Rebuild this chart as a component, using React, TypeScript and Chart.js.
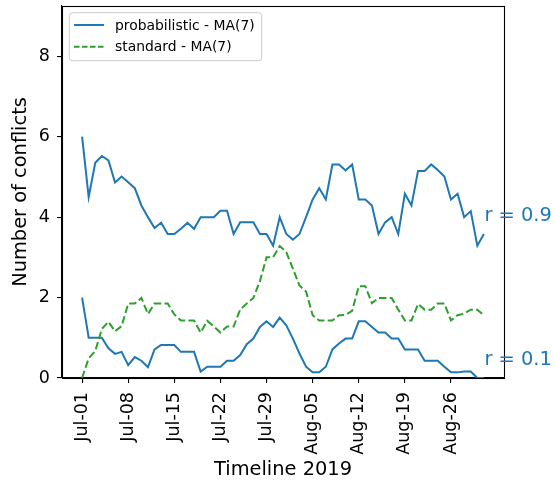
import React, { useEffect, useRef } from "react";
import { Chart, registerables } from "chart.js";

Chart.register(...registerables);

// Daily values from Jul-01 to Aug-31 2019 (7-day moving averages)
const PROB_HIGH: number[] = [
  6.0, 4.5, 5.35, 5.52, 5.41, 4.86, 5.01, 4.87, 4.72, 4.29,
  4.0, 3.73, 3.86, 3.58, 3.58, 3.71, 3.86, 3.71, 4.0, 4.0,
  4.0, 4.16, 4.16, 3.58, 3.87, 3.87, 3.87, 3.58, 3.58, 3.29,
  4.0, 3.58, 3.44, 3.58, 4.0, 4.44, 4.72, 4.44, 5.31, 5.31,
  5.16, 5.31, 4.44, 4.44, 4.29, 3.58, 3.87, 4.0, 3.58, 4.58,
  4.29, 5.15, 5.15, 5.31, 5.17, 5.01, 4.44, 4.58, 4.0, 4.15,
  3.29, 3.58,
];

const PROB_LOW: number[] = [
  2.0, 1.0, 1.0, 1.0, 0.74, 0.6, 0.65, 0.32, 0.52, 0.43,
  0.27, 0.71, 0.82, 0.82, 0.82, 0.65, 0.65, 0.65, 0.16, 0.28,
  0.28, 0.28, 0.43, 0.43, 0.57, 0.84, 0.98, 1.27, 1.41, 1.27,
  1.5, 1.31, 0.98, 0.61, 0.28, 0.14, 0.14, 0.28, 0.71, 0.86,
  0.98, 0.98, 1.41, 1.41, 1.27, 1.13, 1.13, 0.98, 0.98, 0.71,
  0.71, 0.71, 0.43, 0.43, 0.43, 0.28, 0.14, 0.14, 0.16, 0.16,
  0.0, 0.0,
];

const STANDARD: number[] = [
  0.0, 0.49, 0.67, 1.22, 1.4, 1.16, 1.29, 1.85, 1.85, 1.99,
  1.59, 1.85, 1.85, 1.85, 1.58, 1.43, 1.43, 1.43, 1.13, 1.42,
  1.28, 1.13, 1.28, 1.28, 1.7, 1.85, 1.99, 2.41, 3.0, 3.0,
  3.28, 3.13, 2.72, 2.3, 2.15, 1.56, 1.43, 1.43, 1.43, 1.56,
  1.57, 1.67, 2.28, 2.28, 1.86, 1.99, 1.99, 1.99, 1.7, 1.43,
  1.43, 1.84, 1.7, 1.7, 1.85, 1.85, 1.43, 1.56, 1.6, 1.7,
  1.7, 1.56,
];

const TICK_DAYS: number[] = [0, 7, 14, 21, 28, 35, 42, 49, 56];
const TICK_LABELS: string[] = [
  "Jul-01", "Jul-08", "Jul-15", "Jul-22", "Jul-29",
  "Aug-05", "Aug-12", "Aug-19", "Aug-26",
];
const Y_TICKS: number[] = [0, 2, 4, 6, 8];

const LEGEND_LABELS: string[] = ["probabilistic - MA(7)", "standard - MA(7)"];
const ANNOTATIONS: { text: string; y: number }[] = [
  { text: "r = 0.9", y: 4.02 },
  { text: "r = 0.1", y: 0.45 },
];

const BLUE = "#1f77b4";
const GREEN = "#2ca02c";
const FONT = "'DejaVu Sans', sans-serif";

const toPoints = (arr: number[]) => arr.map((v, i) => ({ x: i, y: v }));

const overlayPlugin = {
  id: "overlay",
  afterDatasetsDraw(chart: any) {
    const ctx: CanvasRenderingContext2D = chart.ctx;
    const a = chart.chartArea;
    const xs = chart.scales.x;
    const ys = chart.scales.y;
    ctx.save();
    // full frame (matplotlib spines)
    ctx.strokeStyle = "#000";
    ctx.lineWidth = 1.1;
    ctx.strokeRect(Math.round(a.left) + 0.5, Math.round(a.top) + 0.5,
      Math.round(a.right - a.left), Math.round(a.bottom - a.top));

    // legend
    ctx.font = `13.9px ${FONT}`;
    const tw = Math.max(...LEGEND_LABELS.map((t) => ctx.measureText(t).width));
    const lx = a.left + 7.3;
    const ly = a.top + 6.7;
    const lw = 45.7 + tw + 7;
    const lh = 48;
    ctx.beginPath();
    (ctx as any).roundRect(lx, ly, lw, lh, 3);
    ctx.fillStyle = "rgba(255,255,255,0.8)";
    ctx.fill();
    ctx.strokeStyle = "#cccccc";
    ctx.lineWidth = 1;
    ctx.stroke();
    const rows = [
      { color: BLUE, dash: [] as number[], y: ly + 12.3 },
      { color: GREEN, dash: [5.5, 2.5], y: ly + 34 },
    ];
    rows.forEach((r, i) => {
      ctx.beginPath();
      ctx.setLineDash(r.dash);
      ctx.strokeStyle = r.color;
      ctx.lineWidth = 2;
      ctx.moveTo(lx + 4.7, r.y);
      ctx.lineTo(lx + 34.7, r.y);
      ctx.stroke();
      ctx.setLineDash([]);
      ctx.fillStyle = "#000";
      ctx.textBaseline = "middle";
      ctx.textAlign = "left";
      ctx.fillText(LEGEND_LABELS[i], lx + 45.7, r.y + 1);
    });

    // r annotations
    ctx.font = `19.4px ${FONT}`;
    ctx.fillStyle = BLUE;
    ctx.textBaseline = "middle";
    ctx.textAlign = "left";
    const lastX = xs.getPixelForValue(PROB_HIGH.length - 1);
    ANNOTATIONS.forEach((an) => {
      ctx.fillText(an.text, lastX + 0.5, ys.getPixelForValue(an.y));
    });
    ctx.restore();
  },
};

export default function App() {
  const ref = useRef<HTMLCanvasElement | null>(null);

  useEffect(() => {
    if (!ref.current) return;
    const n = PROB_HIGH.length - 1;
    const margin = n * 0.05;
    const chart = new Chart(ref.current, {
      type: "line",
      data: {
        datasets: [
          {
            label: LEGEND_LABELS[0],
            data: toPoints(PROB_HIGH),
            borderColor: BLUE,
            borderWidth: 2,
            pointRadius: 0,
            tension: 0,
            fill: false,
          },
          {
            label: LEGEND_LABELS[1],
            data: toPoints(STANDARD),
            borderColor: GREEN,
            borderWidth: 2,
            borderDash: [7.5, 3.3],
            pointRadius: 0,
            tension: 0,
            fill: false,
          },
          {
            label: "_low",
            data: toPoints(PROB_LOW),
            borderColor: BLUE,
            borderWidth: 2,
            pointRadius: 0,
            tension: 0,
            fill: false,
          },
        ],
      },
      options: {
        responsive: false,
        animation: false,
        devicePixelRatio: 1,
        layout: { padding: { left: 0, right: 51, top: 6, bottom: 0 } },
        plugins: {
          legend: { display: false },
          tooltip: { enabled: false },
        },
        scales: {
          x: {
            type: "linear",
            min: -margin,
            max: n + margin,
            afterBuildTicks: (scale: any) => {
              scale.ticks = TICK_DAYS.map((d) => ({ value: d }));
            },
            afterFit: (scale: any) => {
              scale.height = 112;
              scale.paddingLeft = 0;
              scale.paddingRight = 0;
            },
            ticks: {
              autoSkip: false,
              minRotation: 90,
              maxRotation: 90,
              padding: 9,
              color: "#000",
              font: { family: FONT, size: 17.5 },
              callback: (_v: any, i: number) => TICK_LABELS[i],
            },
            grid: {
              display: true,
              drawOnChartArea: false,
              drawTicks: true,
              tickLength: 5,
              color: "#000",
              lineWidth: 1.1,
            },
            border: { display: true, color: "#000", width: 1.1 },
            title: {
              display: true,
              text: "Timeline 2019",
              color: "#000",
              font: { family: FONT, size: 19.4 },
              padding: { top: 0, bottom: 8 },
            },
          },
          y: {
            type: "linear",
            min: 0,
            max: 9.25,
            afterBuildTicks: (scale: any) => {
              scale.ticks = Y_TICKS.map((v) => ({ value: v }));
            },
            afterFit: (scale: any) => {
              scale.width = 62;
              scale.paddingTop = 0;
              scale.paddingBottom = 0;
            },
            ticks: {
              padding: 7,
              color: "#000",
              font: { family: FONT, size: 17.5 },
              callback: (v: any) => String(v),
            },
            grid: {
              display: true,
              drawOnChartArea: false,
              drawTicks: true,
              tickLength: 5,
              color: "#000",
              lineWidth: 1.1,
            },
            border: { display: true, color: "#000", width: 1.1 },
            title: {
              display: true,
              text: "Number of conflicts",
              color: "#000",
              font: { family: FONT, size: 19.4 },
              padding: { top: 9, bottom: 0 },
            },
          },
        },
      } as any,
      plugins: [overlayPlugin],
    });
    return () => chart.destroy();
  }, []);

  return (
    <div style={{ position: "absolute", left: 0, top: 0, width: 555, height: 490, background: "#fff" }}>
      <canvas ref={ref} width={555} height={490} />
    </div>
  );
}
